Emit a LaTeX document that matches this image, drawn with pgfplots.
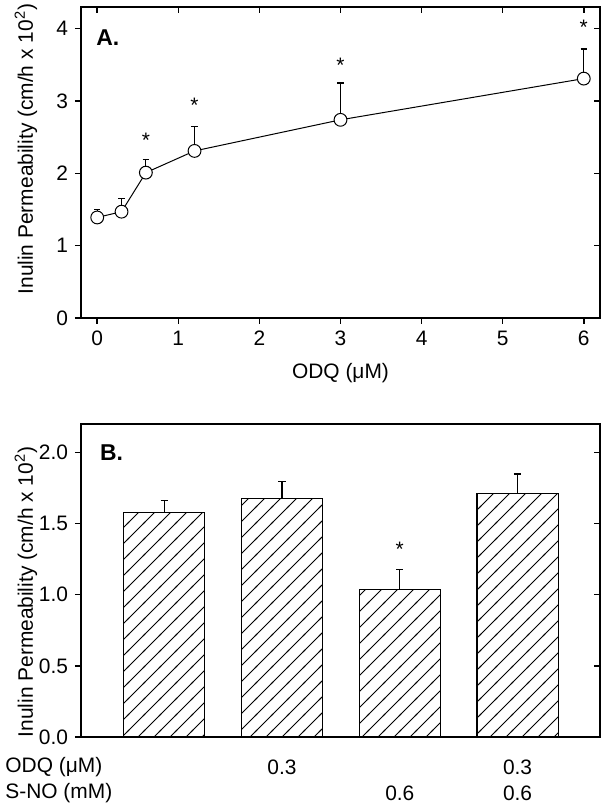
\documentclass[border=0pt]{standalone}
\usepackage{fontspec}
\setmainfont{Liberation Sans}
\usepackage{pgfplots}
\usepackage{pgfplotstable}
\pgfplotsset{compat=1.18}
\usetikzlibrary{patterns}
\pgfdeclarepatternformonly{hatch}{\pgfpoint{-1bp}{-1bp}}{\pgfpoint{9bp}{9bp}}{\pgfpoint{8bp}{8bp}}{%
  \pgfsetlinewidth{0.5bp}%
  \pgfpathmoveto{\pgfpoint{-0.5bp}{-0.5bp}}%
  \pgfpathlineto{\pgfpoint{8.5bp}{8.5bp}}%
  \pgfusepath{stroke}}

\pgfplotstableread{
x y e
0 1.39 0.11
0.3 1.47 0.18
0.6 2.01 0.18
1.2 2.31 0.34
3 2.74 0.51
6 3.31 0.41
}\dataA
\pgfplotstableread{
x y
0.6 2.51
1.2 3.00
3 3.55
6 4.07
}\starsA
\pgfplotstableread{
x y e
0 1.578 0.082
1 1.678 0.117
2 1.034 0.142
3 1.713 0.135
}\dataB
\pgfplotstableread{
x y
2 1.35
}\starsB

\newcommand\fs{\fontsize{10.5}{12.5}\selectfont}
\pgfplotsset{
  panel/.style={scale only axis, width=259.5bp,
    tick label style={font=\fs},
    label style={font=\fs},
    /pgf/number format/assume math mode=true,
    axis line style={line width=0.75bp},
    major tick length=3bp,
    every tick/.style={black, line width=0.75bp},
    clip=false},
  star/.style={draw=none, mark=none, nodes near coords={*},
    every node near coord/.append style={anchor=center, yshift=-2bp, font=\fs}},
  ebars/.style={error bars/.cd, y dir=plus, y explicit, error mark=-,
    error bar style={black, line width=0.6bp, solid},
    error mark options={rotate=90, black, line width=0.6bp, mark size=#1}},
}

\begin{document}
\begin{tikzpicture}
% ---------------- Panel A ----------------
\begin{axis}[panel, at={(0,209.5bp)}, anchor=south west, height=155.5bp,
  xmin=-0.2, xmax=6.2, ymin=0, ymax=4.3,
  xtick={0,...,6}, ytick={0,...,4},
  tick align=outside, xtick pos=left, ytick pos=left,
  xlabel={ODQ (μM)},
  xlabel style={at={(axis description cs:0.5,0)}, anchor=center, yshift=-27.5bp},
  ylabel={Inulin Permeability (cm/h x 10\textsuperscript{2})},
  ylabel style={at={(axis description cs:-0.106,0.543)}, anchor=center}]
\addplot[black, line width=0.5bp, mark=*, mark size=3.2bp,
  mark options={fill=white, draw=black, line width=0.5bp},
  ebars=1.6bp]
  table[x=x, y=y, y error=e] {\dataA};
\addplot[star] table[x=x, y=y] {\starsA};
\node[anchor=west, inner sep=0pt, font=\bfseries\fontsize{11.5}{13}\selectfont] at (axis description cs:0.029,0.90) {A.};
\end{axis}
\begin{axis}[panel, at={(0,209.5bp)}, anchor=south west, height=155.5bp,
  xmin=-0.2, xmax=6.2, ymin=0, ymax=4.3,
  xtick={0,...,6}, ytick={0,...,4}, xticklabels={}, yticklabels={},
  tick align=inside, xtick pos=right, ytick pos=right,
  axis line style={draw=none}]
\end{axis}
% ---------------- Panel B ----------------
\begin{axis}[panel, at={(0,0)}, anchor=south west, height=156.5bp,
  xmin=-0.707, xmax=3.70, ymin=0, ymax=2.2,
  xtick=\empty, ytick={0,0.5,1,1.5,2},
  yticklabel style={/pgf/number format/.cd, fixed, fixed zerofill, precision=1},
  tick align=outside, ytick pos=left,
  ylabel={Inulin Permeability (cm/h x 10\textsuperscript{2})},
  ylabel style={at={(axis description cs:-0.106,0.463)}, anchor=center}]
\addplot[ybar, bar width=0.69, bar shift=0pt, draw=black, line width=0.6bp,
  fill=white, postaction={pattern=hatch}]
  table[x=x, y=y] {\dataB};
\addplot[draw=none, mark=none, forget plot, ebars=1.8bp]
  table[x=x, y=y, y error=e] {\dataB};
\addplot[star] table[x=x, y=y] {\starsB};
\node[anchor=west, inner sep=0pt, font=\bfseries\fontsize{11.5}{13}\selectfont] at (axis description cs:0.036,0.907) {B.};
\node[anchor=west, inner sep=0pt, font=\fs] at (axis description cs:0,0) [xshift=-38bp, yshift=-15bp] {ODQ (μM)};
\node[anchor=west, inner sep=0pt, font=\fs] at (axis description cs:0,0) [xshift=-38bp, yshift=-28bp] {S-NO (mM)};
\node[inner sep=0pt, font=\fs] at (axis cs:1,0) [yshift=-15bp] {0.3};
\node[inner sep=0pt, font=\fs] at (axis cs:3,0) [yshift=-15bp] {0.3};
\node[inner sep=0pt, font=\fs] at (axis cs:2,0) [yshift=-28bp] {0.6};
\node[inner sep=0pt, font=\fs] at (axis cs:3,0) [yshift=-28bp] {0.6};
\end{axis}
\begin{axis}[panel, at={(0,0)}, anchor=south west, height=156.5bp,
  xmin=-0.707, xmax=3.70, ymin=0, ymax=2.2,
  xtick=\empty, ytick={0.5,1,1.5,2}, yticklabels={},
  tick align=inside, ytick pos=right,
  axis line style={draw=none}]
\end{axis}
\pgfresetboundingbox
\path (-40.5bp,-37bp) rectangle (263.5bp,368.5bp);
\end{tikzpicture}
\end{document}
